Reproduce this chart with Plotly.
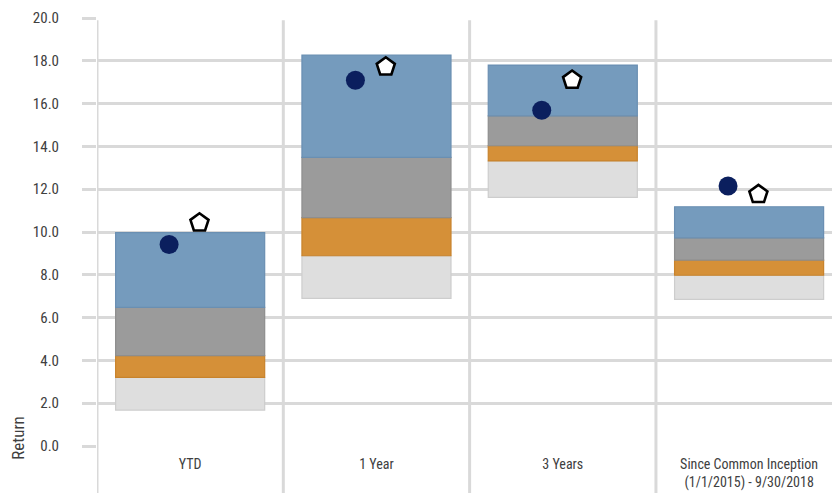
import plotly.graph_objects as go

# Return ranges per period (percent). Each band runs from one boundary to the next.
categories = ["YTD", "1 Year", "3 Years", "Since Common Inception<br>(1/1/2015) - 9/30/2018"]
p95 = [1.68, 6.90, 11.62, 6.85]
p75 = [3.21, 8.89, 13.32, 7.98]
p50 = [4.22, 10.67, 14.03, 8.69]
p25 = [6.48, 13.49, 15.43, 9.73]
p5 = [9.97, 18.27, 17.80, 11.18]

fund = [9.42, 17.09, 15.69, 12.15]
benchmark = [10.43, 17.72, 17.10, 11.76]

y_ticks = [0, 2, 4, 6, 8, 10, 12, 14, 16, 18, 20]

FONT = "Liberation Sans Narrow, Roboto Condensed, Arial Narrow, DejaVu Sans Condensed, sans-serif"
GRID = "#d9d9d9"

xs = list(range(len(categories)))

fig = go.Figure()

bands = [
    ("95th-75th", p95, p75, "#dedede", "#cdcdcd"),
    ("75th-50th", p75, p50, "#d59038", "#c8832c"),
    ("50th-25th", p50, p25, "#9b9b9b", "#8e8e8e"),
    ("25th-5th", p25, p5, "#759bbd", "#6a8fb2"),
]
for name, lo, hi, fill, edge in bands:
    fig.add_trace(go.Bar(
        x=xs, base=lo, y=[h - l for h, l in zip(hi, lo)],
        width=0.8, name=name,
        marker=dict(color=fill, line=dict(color=edge, width=1.2)),
        showlegend=False, hoverinfo="skip",
    ))

fig.add_trace(go.Scatter(
    x=[x - 0.113 for x in xs], y=fund, mode="markers", name="Fund",
    marker=dict(symbol="circle", size=19, color="#0b1f5e", line=dict(width=0)),
    showlegend=False,
))
fig.add_trace(go.Scatter(
    x=[x + 0.05 for x in xs], y=benchmark, mode="markers", name="Benchmark",
    marker=dict(symbol="pentagon", size=19, color="white",
                line=dict(color="black", width=2.6)),
    showlegend=False,
))

# Category separators that run down through the label area
shapes = []
for b in [-0.5, 0.5, 1.5, 2.5]:
    shapes.append(dict(type="line", xref="x", yref="paper", x0=b, x1=b,
                       y0=-0.12, y1=0.995, line=dict(color=GRID, width=3),
                       layer="below"))

fig.update_layout(
    width=832, height=493,
    margin=dict(l=97, r=0, t=18, b=47),
    paper_bgcolor="white", plot_bgcolor="white",
    barmode="overlay",
    shapes=shapes,
    font=dict(family=FONT, color="#404040"),
    xaxis=dict(
        range=[-0.5, 3.445], tickvals=xs, ticktext=categories,
        showgrid=False, zeroline=False, showline=False, ticks="",
        ticklabelstandoff=8,
        tickfont=dict(family=FONT, size=14, color="#404040"),
        fixedrange=True,
    ),
    yaxis=dict(
        range=[0, 20], tickvals=y_ticks,
        ticktext=[f"{v:.1f}" for v in y_ticks],
        showgrid=True, gridcolor=GRID, gridwidth=3,
        zeroline=False, showline=False,
        ticks="outside", ticklen=14, tickcolor=GRID, tickwidth=3,
        ticklabelstandoff=20,
        tickfont=dict(family=FONT, size=15, color="#404040"),
        fixedrange=True,
    ),
    annotations=[dict(
        text="Return", textangle=-90, xref="paper", yref="paper",
        x=-0.107, y=0.02, xanchor="center", yanchor="middle", showarrow=False,
        font=dict(family=FONT, size=17, color="#404040"),
    )],
)

fig.write_html("out.html")
